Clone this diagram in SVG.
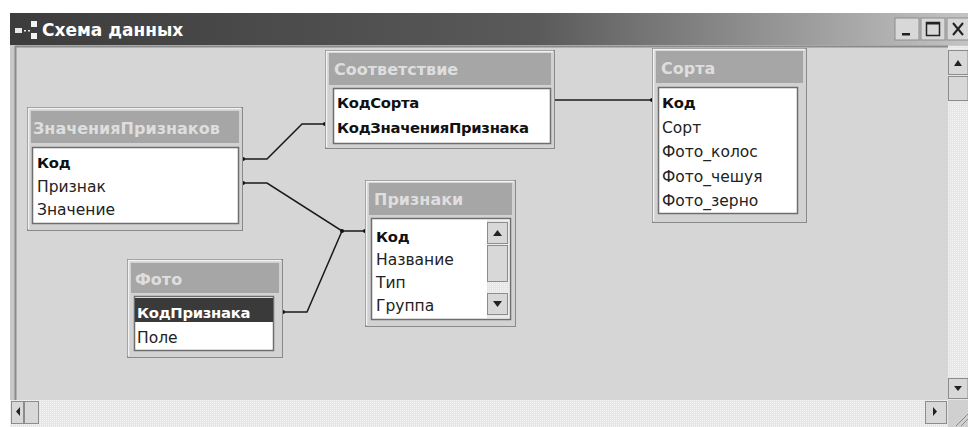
<svg xmlns="http://www.w3.org/2000/svg" width="968" height="427" viewBox="0 0 968 427">
<defs>
<linearGradient id="tb" x1="0" y1="0" x2="1" y2="0">
<stop offset="0" stop-color="#3c3c3c"/>
<stop offset="0.55" stop-color="#5a5a5a"/>
<stop offset="1" stop-color="#c4c4c4"/>
</linearGradient>
<pattern id="dots" width="2" height="2" patternUnits="userSpaceOnUse">
<rect width="2" height="2" fill="#e6e6e6"/>
<rect width="1" height="1" fill="#f4f4f4"/>
</pattern>
<marker id="dot" viewBox="0 0 4 4" refX="2" refY="2" markerWidth="4" markerHeight="4" markerUnits="userSpaceOnUse">
<circle cx="2" cy="2" r="2" fill="#111"/>
</marker>
</defs>
<style>
.frame{fill:#d2d2d2;stroke:#8a8a8a;stroke-width:1}
.hl{fill:none;stroke:#f2f2f2;stroke-width:1.5}
.ttl{fill:#a6a6a6}
.ttx{font-family:"DejaVu Sans",sans-serif;font-weight:bold;font-size:16px;fill:#dedede}
.body{fill:#ffffff;stroke:#6e6e6e;stroke-width:1.5}
.f{font-family:"DejaVu Sans",sans-serif;font-size:15.5px;fill:#222}
.fb{font-family:"DejaVu Sans",sans-serif;font-size:14.8px;font-weight:bold;fill:#111;letter-spacing:-0.3px}
.link{fill:none;stroke:#1a1a1a;stroke-width:1.5;marker-start:url(#dot);marker-end:url(#dot)}
.btn{fill:#d8d8d8;stroke:#8c8c8c;stroke-width:1}
.arr{fill:#222}
</style>
<rect width="968" height="427" fill="#ffffff"/>
<!-- window -->
<g id="window">
<rect x="10" y="13" width="958" height="414" fill="#c8c8c8"/>
<rect x="10" y="13" width="958" height="32" fill="url(#tb)"/>
<rect x="15" y="46" width="933" height="354" fill="#d6d6d6"/>
<line x1="15" y1="46.5" x2="948" y2="46.5" stroke="#8a8a8a" stroke-width="2"/>
<line x1="15.5" y1="46" x2="15.5" y2="400" stroke="#8a8a8a" stroke-width="2"/>
<!-- icon -->
<rect x="15" y="28" width="7" height="5" fill="#e8e8e8"/>
<rect x="31" y="21" width="6" height="6" fill="#f2f2f2"/>
<rect x="31" y="33" width="6" height="6" fill="#f2f2f2"/>
<rect x="24" y="30" width="2" height="1.5" fill="#e8e8e8"/>
<rect x="28" y="30" width="2" height="1.5" fill="#e8e8e8"/>
<text x="42" y="36" font-family="DejaVu Sans, sans-serif" font-weight="bold" font-size="17px" fill="#ffffff">Схема данных</text>
<!-- title buttons -->
<rect x="895" y="18" width="24" height="22" class="btn"/>
<rect x="902" y="33" width="8" height="2.5" class="arr"/>
<rect x="921" y="18" width="24" height="22" class="btn"/>
<rect x="926.5" y="22.5" width="13" height="13" fill="none" stroke="#222" stroke-width="1.5"/>
<line x1="926" y1="23.5" x2="940" y2="23.5" stroke="#222" stroke-width="2"/>
<rect x="947" y="18" width="24" height="22" class="btn"/>
<path d="M953 23 L963 35 M963 23 L953 35" stroke="#222" stroke-width="2"/>
<!-- vertical scrollbar -->
<rect x="948" y="46" width="20" height="354" fill="url(#dots)"/>
<rect x="948.5" y="50.5" width="19.5" height="24" class="btn"/>
<path d="M954 66 L958 60 L962 66 Z" class="arr"/>
<rect x="948.5" y="76.5" width="19.5" height="24" class="btn"/>
<rect x="948.5" y="378.5" width="19.5" height="20" class="btn"/>
<path d="M954 386 L962 386 L958 391 Z" class="arr"/>
<!-- horizontal scrollbar -->
<rect x="10" y="400" width="938" height="27" fill="url(#dots)"/>
<rect x="11.5" y="401.5" width="12" height="22" class="btn"/>
<path d="M20 407 L20 416 L16 411.5 Z" class="arr"/>
<rect x="24.5" y="401.5" width="14" height="22" class="btn"/>
<rect x="925.5" y="401.5" width="21" height="22" class="btn"/>
<path d="M933 407 L933 416 L937 411.5 Z" class="arr"/>
<rect x="948" y="400" width="20" height="27" fill="#d0d0d0"/>
<path d="M956 426 L968 414 M961 426 L968 419" stroke="#8a8a8a" stroke-width="1"/>
</g>
<!-- connectors -->
<g id="connectors">
<polyline class="link" points="243,159 267,159 302,124 325,124"/>
<polyline class="link" points="243,183 267,183 342,231 365,231"/>
<polyline class="link" points="283,312 307,312 342,231"/>
<polyline class="link" points="553,100 652,100"/>
</g>
<!-- ЗначенияПризнаков -->
<g id="node-znacheniya">
<rect x="27.5" y="107.5" width="215" height="123" class="frame"/>
<path d="M28.5 229 V108.5 H241" class="hl"/>
<rect x="31" y="111" width="208" height="32" class="ttl"/>
<text x="33" y="134" class="ttx">ЗначенияПризнаков</text>
<rect x="32.5" y="147.5" width="206" height="76" class="body"/>
<text x="37" y="168" class="fb">Код</text>
<text x="37" y="192" class="f">Признак</text>
<text x="37" y="215" class="f">Значение</text>
</g>
<!-- Соответствие -->
<g id="node-sootvetstvie">
<rect x="325.5" y="50.5" width="229" height="98" class="frame"/>
<path d="M326.5 147 V51.5 H553" class="hl"/>
<rect x="329" y="53" width="222" height="32" class="ttl"/>
<text x="334" y="75" class="ttx">Соответствие</text>
<rect x="333.5" y="88.5" width="217" height="55" class="body"/>
<text x="337" y="108" class="fb">КодСорта</text>
<text x="337" y="133" class="fb">КодЗначенияПризнака</text>
</g>
<!-- Сорта -->
<g id="node-sorta">
<rect x="652.5" y="48.5" width="154" height="174" class="frame"/>
<path d="M653.5 221 V49.5 H805" class="hl"/>
<rect x="656" y="51" width="147" height="32" class="ttl"/>
<text x="661" y="74" class="ttx">Сорта</text>
<rect x="658.5" y="87.5" width="139" height="126" class="body"/>
<text x="662" y="108" class="fb">Код</text>
<text x="662" y="133" class="f">Сорт</text>
<text x="662" y="157" class="f">Фото_колос</text>
<text x="662" y="182" class="f">Фото_чешуя</text>
<text x="662" y="206" class="f">Фото_зерно</text>
</g>
<!-- Признаки -->
<g id="node-priznaki">
<rect x="365.5" y="180.5" width="150" height="146" class="frame"/>
<path d="M366.5 325 V181.5 H514" class="hl"/>
<rect x="369" y="183" width="143" height="32" class="ttl"/>
<text x="374" y="205" class="ttx">Признаки</text>
<rect x="371.5" y="218.5" width="139" height="101" class="body"/>
<text x="376" y="242" class="fb">Код</text>
<text x="376" y="265" class="f">Название</text>
<text x="376" y="288" class="f">Тип</text>
<text x="376" y="311" class="f">Группа</text>
<rect x="487" y="220" width="22" height="98" fill="url(#dots)"/>
<rect x="487.5" y="222.5" width="20" height="21" class="btn"/>
<path d="M493 236 L497.5 230 L502 236 Z" class="arr"/>
<rect x="487.5" y="245.5" width="20" height="36" class="btn"/>
<rect x="487.5" y="293.5" width="20" height="21" class="btn"/>
<path d="M493 301 L502 301 L497.5 307 Z" class="arr"/>
</g>
<!-- Фото -->
<g id="node-foto">
<rect x="127.5" y="259.5" width="155" height="98" class="frame"/>
<path d="M128.5 356 V260.5 H281" class="hl"/>
<rect x="131" y="263" width="148" height="30" class="ttl"/>
<text x="135" y="285" class="ttx">Фото</text>
<rect x="134.5" y="296.5" width="139" height="54" class="body"/>
<rect x="135" y="298" width="138" height="24" fill="#3a3a3a"/>
<text x="137" y="318" class="fb" style="fill:#ffffff">КодПризнака</text>
<text x="137" y="343" class="f">Поле</text>
</g>
</svg>
